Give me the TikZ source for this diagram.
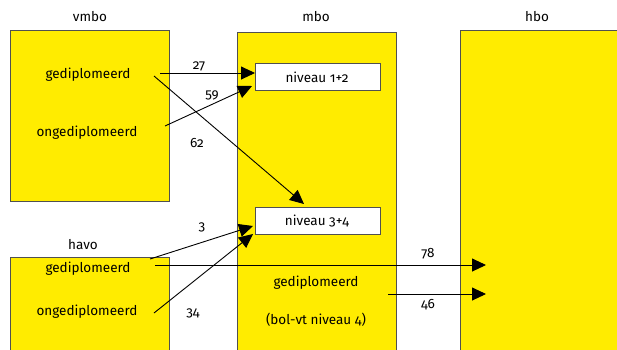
\documentclass[tikz,border=0pt]{standalone}
\usepackage{fontspec}
\setmainfont{Fira Sans}[Numbers=OldStyle]
\usetikzlibrary{arrows.meta}
\definecolor{ryellow}{HTML}{FFEC00}
\definecolor{rborder}{HTML}{505050}
\begin{document}
\begin{tikzpicture}[x=1pt,y=-1pt,
  box/.style={draw=rborder,fill=ryellow,line width=1pt,anchor=north west,inner sep=0pt},
  lvl/.style={draw=rborder,fill=white,line width=1pt,anchor=north west,inner sep=0pt,minimum width=125pt,minimum height=27pt},
  txt/.style={font=\fontsize{13.5}{15}\selectfont,inner sep=0pt},
  num/.style={font=\fontsize{13.5}{15}\selectfont,inner sep=0pt},
  arr/.style={line width=0.9pt,-{Triangle[length=14pt,width=13pt]}}]
\clip (0,0) rectangle (617,349);
\fill[white] (0,0) rectangle (617,349);
% boxes
\node[box,minimum width=159pt,minimum height=171pt] (vmbo) at (10,30) {};
\node[box,minimum width=159pt,minimum height=110pt] (havo) at (10,257) {};
\node[box,minimum width=159pt,minimum height=330pt] (mbo) at (237,32) {};
\node[box,minimum width=170pt,minimum height=330pt] (hbo) at (460,30) {};
\node[lvl] (n12) at (255,63) {};
\node[lvl] (n34) at (255,207) {};
% headings
\node[txt] (tv) at (90,17) {vmbo};
\node[txt] (tm) at (316,17) {mbo};
\node[txt] (th) at (537,17) {hbo};
\node[txt] (tha) at (83,245) {havo};
% texts
\node[txt] (vg) at (88,75) {gediplomeerd};
\node[txt] (vo) at (87,133) {ongediplomeerd};
\node[txt] (hg) at (88,269) {gediplomeerd};
\node[txt] (ho) at (87,312) {ongediplomeerd};
\node[txt] (t12) at (317,77) {niveau 1+2};
\node[txt] (t34) at (317,221) {niveau 3+4};
\node[txt] (mg) at (316,283) {gediplomeerd};
\node[txt] (mb) at (316,320) {(bol-vt niveau 4)};
% connector endpoints
\coordinate (a1s) at (160,73);  \coordinate (a1e) at (255,73);
\coordinate (a2s) at (165,126); \coordinate (a2e) at (252,86);
\coordinate (a3s) at (154,76);  \coordinate (a3e) at (304,204);
\coordinate (a4s) at (150,259); \coordinate (a4e) at (253,226);
\coordinate (a5s) at (154,313); \coordinate (a5e) at (253,234);
\coordinate (a6s) at (155,265); \coordinate (a6e) at (486,265);
\coordinate (a7s) at (388,294); \coordinate (a7e) at (486,294);
\draw[arr] (a1s) -- (a1e);
\draw[arr] (a2s) -- (a2e);
\draw[arr] (a3s) -- (a3e);
\draw[arr] (a4s) -- (a4e);
\draw[arr] (a5s) -- (a5e);
\draw[arr] (a6s) -- (a6e);
\draw[arr] (a7s) -- (a7e);
% numbers
\node[num] (l27) at (199,66) {27};
\node[num] (l59) at (212,95) {59};
\node[num] (l62) at (197,143) {62};
\node[num] (l3) at (202,227) {3};
\node[num] (l34) at (193,313) {34};
\node[num] (l78) at (428,254) {78};
\node[num] (l46) at (428,305) {46};
\end{tikzpicture}
\end{document}
